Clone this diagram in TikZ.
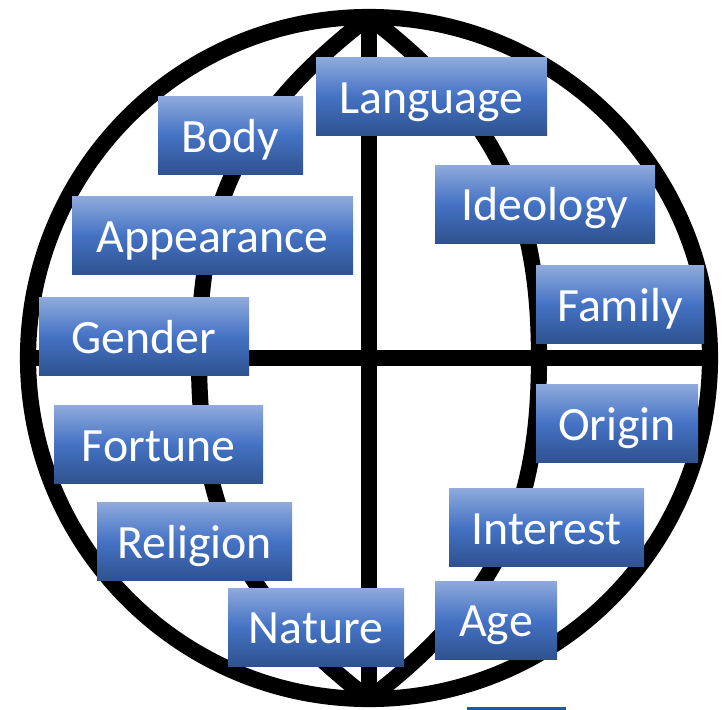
\documentclass[tikz,border=0pt]{standalone}
\usepackage{fontspec}
\setmainfont{Carlito}
\usetikzlibrary{positioning}

\definecolor{tagtop}{RGB}{143,170,220}
\definecolor{tagmid}{RGB}{68,114,196}
\definecolor{tagbot}{RGB}{47,82,143}
\definecolor{stripblue}{RGB}{31,90,168}

\begin{document}
\begin{tikzpicture}[
  globe/.style={line width=4.6pt, draw=black},
  tag/.style={rectangle, top color=tagtop, bottom color=tagbot, middle color=tagmid,
    text=white, minimum height=0.78cm, inner sep=0pt,
    text height=0.45cm, text depth=0.12cm,
    font=\fontsize{13.6pt}{16pt}\selectfont},
]
  \useasboundingbox (0,0) rectangle (7.24,-7.10);

  % Globe
  \draw[globe] (3.69,-3.58) circle[radius=3.41];
  \coordinate (north) at (3.69,-0.17);
  \coordinate (south) at (3.69,-6.99);
  \coordinate (west) at (0.28,-3.58);
  \coordinate (east) at (7.10,-3.58);
  \draw[globe] (north) -- (south);
  \draw[globe] (west) -- (east);
  \draw[globe] (north) .. controls (2.39,-1.17) and (1.99,-2.08) .. (1.99,-3.58)
    .. controls (1.99,-5.08) and (2.39,-5.99) .. (south);
  \draw[globe] (north) .. controls (4.99,-1.17) and (5.39,-2.08) .. (5.39,-3.58)
    .. controls (5.39,-5.08) and (4.99,-5.99) .. (south);

  % Left column
  \node[tag, minimum width=1.45cm] (body) at (2.305,-1.355) {Body};
  \node[tag, minimum width=2.81cm] (appear) at (2.125,-2.355) {Appearance};
  \node[tag, minimum width=2.10cm] (gender) at (1.44,-3.365) {Gender};
  \node[tag, minimum width=2.09cm] (fortune) at (1.585,-4.445) {Fortune};
  \node[tag, minimum width=1.95cm] (relig) at (1.945,-5.415) {Religion};
  \node[tag, minimum width=1.76cm] (nature) at (3.16,-6.27) {Nature};

  % Right column
  \node[tag, minimum width=2.31cm] (lang) at (4.315,-0.965) {Language};
  \node[tag, minimum width=2.20cm] (ideo) at (5.45,-2.04) {Ideology};
  \node[tag, minimum width=1.68cm] (family) at (6.20,-3.045) {Family};
  \node[tag, minimum width=1.62cm] (origin) at (6.17,-4.235) {Origin};
  \node[tag, minimum width=1.95cm] (interest) at (5.465,-5.275) {Interest};
  \node[tag, minimum width=1.22cm] (age) at (4.96,-6.20) {Age};

  % cut-off strip at the bottom edge
  \fill[stripblue] (4.67,-7.07) rectangle (5.66,-7.10);
\end{tikzpicture}
\end{document}
